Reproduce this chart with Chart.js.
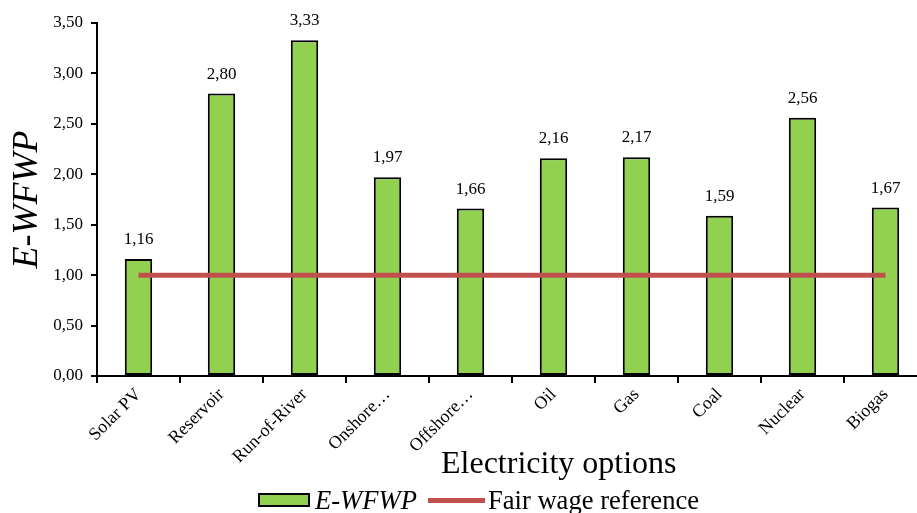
<!DOCTYPE html>
<html>
<head>
<meta charset="utf-8">
<script src="https://cdn.jsdelivr.net/npm/chart.js@4/dist/chart.umd.min.js"></script>
<style>
  html, body { margin: 0; padding: 0; background: #fff; overflow: hidden; width: 917px; height: 513px; }
  #wrap { position: relative; width: 935px; height: 513px; }
  #xtitle { position: absolute; left: 441px; top: 440px; font: 32px 'Liberation Serif', 'Times New Roman', serif; color: #000; white-space: nowrap; line-height: 44px; }
  #legend { position: absolute; left: 258px; top: 485px; height: 30px; display: flex; align-items: center; font: 26.6px 'Liberation Serif', 'Times New Roman', serif; color: #000; white-space: nowrap; }
  .box { width: 48px; height: 10px; background: #92D050; border: 2px solid #000; margin-right: 5px; }
  .ln { width: 57px; height: 5px; background: #C0504D; margin-left: 11px; margin-right: 3px; }
</style>
</head>
<body>
<div id="wrap">
  <canvas id="c" width="935" height="513"></canvas>
  <div id="xtitle">Electricity options</div>
  <div id="legend"><span class="box"></span><i>E-WFWP</i><span class="ln"></span><span>Fair wage reference</span></div>
</div>
<script>
const categories = ["Solar PV", "Reservoir", "Run-of-River", "Onshore…", "Offshore…", "Oil", "Gas", "Coal", "Nuclear", "Biogas"];
const ewfwpValues = [1.16, 2.80, 3.33, 1.97, 1.66, 2.16, 2.17, 1.59, 2.56, 1.67];
const fairWageValues = [1.00, 1.00, 1.00, 1.00, 1.00, 1.00, 1.00, 1.00, 1.00, 1.00];
const yTicks = [0, 0.5, 1, 1.5, 2, 2.5, 3, 3.5];

const FONT = "'Liberation Serif', 'Times New Roman', serif";
const fmt = v => Number(v).toFixed(2).replace('.', ',');

const barLabels = {
  id: 'barLabels',
  afterDatasetsDraw(chart) {
    const ctx = chart.ctx;
    const meta = chart.getDatasetMeta(1);
    ctx.save();
    ctx.font = '17px ' + FONT;
    ctx.fillStyle = '#000';
    ctx.textAlign = 'center';
    ctx.textBaseline = 'alphabetic';
    meta.data.forEach((bar, i) => {
      ctx.fillText(fmt(ewfwpValues[i]), bar.x, bar.y - 15);
    });
    ctx.restore();
  }
};

new Chart(document.getElementById('c'), {
  data: {
    labels: categories,
    datasets: [
      {
        type: 'line',
        label: 'Fair wage reference',
        data: fairWageValues,
        borderColor: '#C0504D',
        borderWidth: 5,
        pointRadius: 0,
        fill: false,
        order: 0
      },
      {
        type: 'bar',
        label: 'E-WFWP',
        data: ewfwpValues,
        backgroundColor: '#92D050',
        borderColor: '#000',
        borderWidth: 2,
        borderSkipped: false,
        barPercentage: 0.33,
        categoryPercentage: 1,
        order: 1
      }
    ]
  },
  options: {
    responsive: false,
    animation: false,
    layout: { padding: { top: 23, right: 8, left: 0, bottom: 0 } },
    plugins: { legend: { display: false }, tooltip: { enabled: false } },
    scales: {
      x: {
        offset: true,
        border: { display: true, color: '#000', width: 2 },
        grid: { display: true, offset: true, drawOnChartArea: false, drawTicks: true, tickLength: 7, color: '#000', lineWidth: 2 },
        ticks: { color: '#000', font: { family: FONT, size: 18 }, minRotation: 45, maxRotation: 45, padding: 1, autoSkip: false },
        afterFit(scale) { scale.height = 137; }
      },
      y: {
        min: 0, max: 3.5,
        border: { display: true, color: '#000', width: 2 },
        grid: { display: true, drawOnChartArea: false, drawTicks: true, tickLength: 6, color: '#000', lineWidth: 2 },
        afterBuildTicks(scale) { scale.ticks = yTicks.map(v => ({ value: v })); },
        ticks: { color: '#000', font: { family: FONT, size: 17 }, padding: 8, callback: v => fmt(v) },
        title: { display: true, text: 'E-WFWP', color: '#000', font: { family: FONT, size: 36, style: 'italic' }, padding: { top: 6, bottom: 0 } },
        afterFit(scale) { scale.width = 97; }
      }
    }
  },
  plugins: [barLabels]
});
</script>
</body>
</html>
